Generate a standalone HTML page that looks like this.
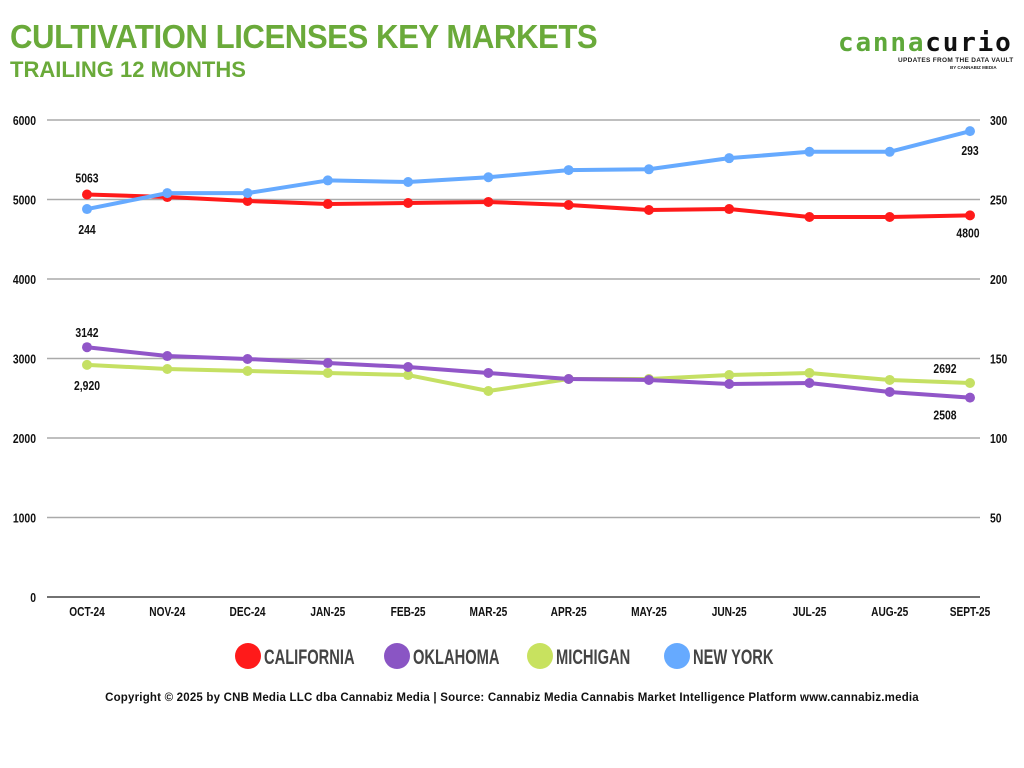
<!DOCTYPE html>
<html><head><meta charset="utf-8"><style>
body{margin:0;width:1024px;height:768px;background:#fff;overflow:hidden;font-family:"Liberation Sans",sans-serif}
.t{position:absolute;left:10px;top:18px;font-size:33px;font-weight:bold;color:#6aaa3a;letter-spacing:-0.5px;white-space:nowrap;transform:scaleX(0.945);transform-origin:left}
.s{position:absolute;left:10px;top:57px;font-size:22px;font-weight:bold;color:#6aaa3a;white-space:nowrap}
</style></head><body>
<div class="t">CULTIVATION LICENSES KEY MARKETS</div>
<div class="s">TRAILING 12 MONTHS</div>
<div style="position:absolute;left:838px;top:28px;font-family:'DejaVu Sans Mono',monospace;font-weight:bold;font-size:26px;letter-spacing:1.8px"><span style="color:#5ea83a">canna</span><span style="color:#111">curio</span></div>
<div style="position:absolute;left:898px;top:57px;font-size:6.5px;font-weight:bold;color:#222;letter-spacing:0.3px">UPDATES FROM THE DATA VAULT</div>
<div style="position:absolute;left:950px;top:65px;font-size:4.5px;font-weight:bold;color:#222">BY CANNABIZ MEDIA</div>
<svg id="c" width="1024" height="768" style="position:absolute;left:0;top:0"></svg>
<div style="position:absolute;left:0;width:1024px;top:692px;text-align:center;font-size:11.5px;letter-spacing:0.2px;font-weight:bold;color:#111">Copyright © 2025 by CNB Media LLC dba Cannabiz Media | Source: Cannabiz Media Cannabis Market Intelligence Platform www.cannabiz.media</div>
<script>
const months=["OCT-24","NOV-24","DEC-24","JAN-25","FEB-25","MAR-25","APR-25","MAY-25","JUN-25","JUL-25","AUG-25","SEPT-25"];
const california=[5063,5031,4981,4943,4956,4969,4931,4868,4880,4780,4780,4800];
const oklahoma=[3142,3031,2994,2943,2893,2818,2742,2730,2679,2692,2579,2508];
const michigan=[2920,2868,2843,2818,2792,2591,2742,2742,2792,2818,2730,2692];
const newYork=[244,254,254,262,261,264,268.5,269,276,280,280,293];
const leftTicks=[0,1000,2000,3000,4000,5000,6000];
const rightTicks=[50,100,150,200,250,300];
const NS="http://www.w3.org/2000/svg",svg=document.getElementById('c');
const X0=47,X1=980,Y0=597,Y1=120;
const xs=i=>87+i*(970-87)/(months.length-1);
const yl=v=>Y0-(v/6000)*(Y0-Y1);
const yr=v=>Y0-(v/300)*(Y0-Y1);
function mk(t,a,p){const e=document.createElementNS(NS,t);for(const k in a)e.setAttribute(k,a[k]);(p||svg).appendChild(e);return e;}
const F='"Liberation Sans",sans-serif';
function txt(s,x,y,anchor,size,fill,sx,p){
  const t=mk('text',{x:0,y:0,'text-anchor':anchor,'font-size':size,'font-weight':'bold','font-family':F,fill:fill,transform:'translate('+x+','+y+') scale('+sx+',1)'},p);
  t.textContent=s;return t;}
leftTicks.forEach(v=>{
  if(v>0){const g=mk('line',{x1:X0,x2:X1,y1:yl(v),y2:yl(v),stroke:'#aaa','stroke-width':1.5});
  
  }
  const t=txt(v,36,yl(v)+5,'end',13,'#111',0.8);
  
  
});
rightTicks.forEach(v=>{const t=txt(v,990,yr(v)+5,'start',13,'#111',0.8);
  
  });
const ax=mk('line',{x1:X0,x2:X1,y1:Y0,y2:Y0,stroke:'#444','stroke-width':1.5});


months.forEach((m,i)=>{const t=txt(m,xs(i),616,'middle',13,'#111',0.78);
  
  });
function series(vals,fy,col,name){
  const g=mk('g',{});
  
  
  mk('polyline',{points:vals.map((v,i)=>xs(i)+','+fy(v)).join(' '),fill:'none',stroke:col,'stroke-width':4,'stroke-linejoin':'round'},g);
  vals.forEach((v,i)=>{const c=mk('circle',{cx:xs(i),cy:fy(v),r:5,fill:col},g);
    
    });
}
series(michigan,yl,'#c5e063','michigan');
series(oklahoma,yl,'#9156c8','oklahoma');
series(california,yl,'#ff1a1a','california');
series(newYork,yr,'#66aaff','new-york');
function lab(s,x,y,name){const t=txt(s,x,y,'middle',13,'#111',0.8);
  
  }
const L=months.length-1;
lab(california[0],xs(0),yl(california[0])-12,'california-first-label');
lab(california[L],xs(L)-2,yl(california[L])+22,'california-last-label');
lab(newYork[0],xs(0),yr(newYork[0])+25,'new-york-first-label');
lab(newYork[L],xs(L),yr(newYork[L])+24,'new-york-last-label');
lab(oklahoma[0],xs(0),yl(oklahoma[0])-10,'oklahoma-first-label');
lab(oklahoma[L],xs(L)-25,yl(oklahoma[L])+22,'oklahoma-last-label');
lab(michigan[0].toLocaleString('en-US'),xs(0),yl(michigan[0])+25,'michigan-first-label');
lab(michigan[L],xs(L)-25,yl(michigan[L])-10,'michigan-last-label');
const legend=[["CALIFORNIA","#ff1a1a",248],["OKLAHOMA","#8a55c4",397],["MICHIGAN","#c8e25f",540],["NEW YORK","#66aaff",677]];
legend.forEach(([n,c,x])=>{const g=mk('g',{});
  
  
  mk('circle',{cx:x,cy:656,r:13,fill:c},g);
  txt(n,x+16,664,'start',21,'#444',0.7,g);});
</script>
</body></html>
